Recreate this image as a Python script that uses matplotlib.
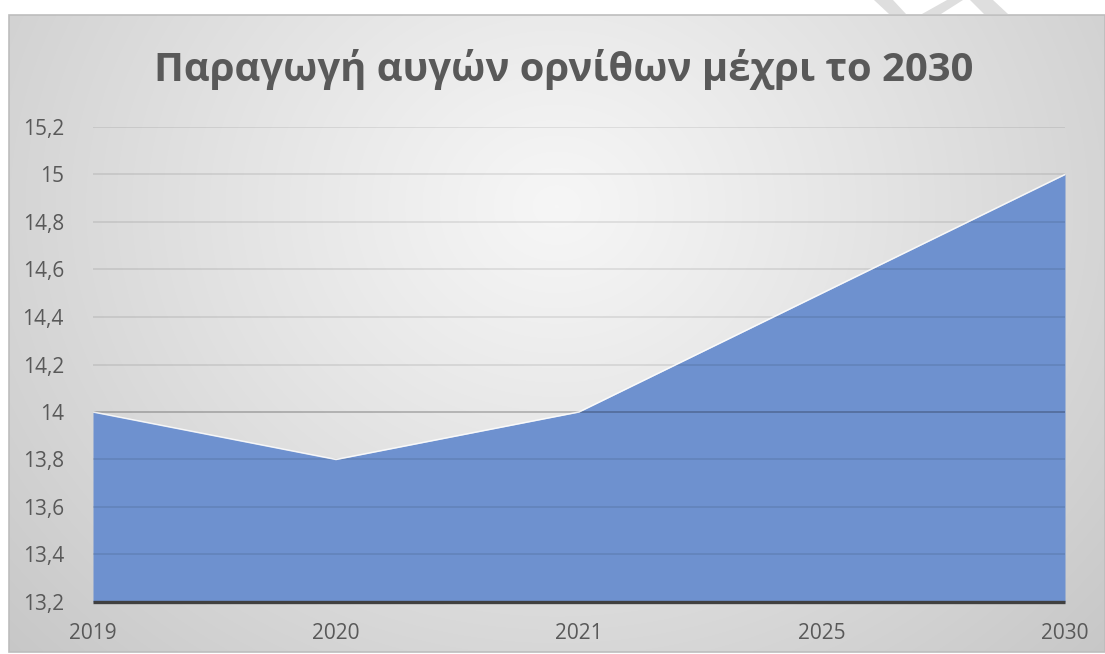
import numpy as np
import matplotlib
matplotlib.use("Agg")
import matplotlib.pyplot as plt
from matplotlib.patches import Polygon, Rectangle

plt.rcParams['font.family'] = ['Open Sans', 'DejaVu Sans']

# Egg production per year (series values)
years = ["2019", "2020", "2021", "2025", "2030"]
production = [14.0, 13.8, 14.0, 14.5, 15.0]
y_ticks = [13.2, 13.4, 13.6, 13.8, 14.0, 14.2, 14.4, 14.6, 14.8, 15.0, 15.2]
title = "Παραγωγή αυγών ορνίθων μέχρι το 2030"

W, H = 1105, 654
fig = plt.figure(figsize=(W / 100, H / 100), dpi=100)
fig.patch.set_facecolor("white")


def px(x, y):
    # pixel coords (from top-left) -> figure fraction
    return x / W, 1 - y / H


# chart frame with a radial grey gradient
fx0, fy0, fx1, fy1 = 9, 15, 1105, 652
bg = fig.add_axes([fx0 / W, 1 - fy1 / H, (fx1 - fx0) / W, (fy1 - fy0) / H])
bg.set_axis_off()
gx, gy = np.meshgrid(np.linspace(0, 1, 400), np.linspace(0, 1, 300))
r = np.sqrt(((gx - 0.5) / 0.5) ** 2 + ((gy - 0.3) / 0.75) ** 2) / np.sqrt(2)
r = np.clip(r, 0, 1)
shade = 0.965 - 0.19 * r ** 1.1
bg.imshow(np.dstack([shade] * 3), extent=[0, 1, 0, 1], origin="upper",
          aspect="auto", interpolation="bilinear")
bg.set_xlim(0, 1)
bg.set_ylim(0, 1)

# frame border
fig.patches.append(Rectangle(px(fx0, fy1), (fx1 - fx0) / W, (fy1 - fy0) / H,
                             transform=fig.transFigure, fill=False,
                             edgecolor="#bdbdbd", linewidth=1.2, zorder=5))

# faint logo bits above the frame
for pts in ([(874, 0), (893, 0), (906, 14), (889, 14)],
            [(922, 14), (941, 14), (963, 0), (947, 0)],
            [(984, 14), (1008, 14), (993, 0), (970, 0)]):
    fig.patches.append(Polygon([px(x, y) for x, y in pts], closed=True,
                               transform=fig.transFigure, facecolor="#dedede",
                               edgecolor="none", zorder=1))

# plot area
ax = fig.add_axes([93 / W, 1 - 602 / H, (1065 - 93) / W, (602 - 127) / H])
ax.set_facecolor("none")
x = np.arange(len(years))

for t in y_ticks[1:]:
    ax.axhline(t, color="black", alpha=0.22 if t == 14.0 else 0.085,
               linewidth=1.4, zorder=3)

ax.fill_between(x, production, y_ticks[0], color="#6E91CF", linewidth=0, zorder=2)
ax.plot(x, production, color="white", alpha=0.8, linewidth=1.1, zorder=4)
ax.axhline(y_ticks[0], color="#404040", linewidth=2.4, zorder=5,
           clip_on=False, solid_capstyle="butt")

ax.set_xlim(0, len(years) - 1)
ax.set_ylim(y_ticks[0], y_ticks[-1])
ax.set_xticks(x)
ax.set_xticklabels(years)
ax.set_yticks(y_ticks)
ax.set_yticklabels([f"{t:g}".replace(".", ",") for t in y_ticks])
ax.tick_params(length=0, labelsize=15, colors="#595959")
ax.tick_params(axis="x", pad=15)
ax.tick_params(axis="y", pad=21)
for s in ax.spines.values():
    s.set_visible(False)

fig.text(564 / W, 1 - 69 / H, title, ha="center", va="center",
         fontsize=28.8, fontweight="bold", color="#595959")

fig.savefig("out.png", dpi=100)
